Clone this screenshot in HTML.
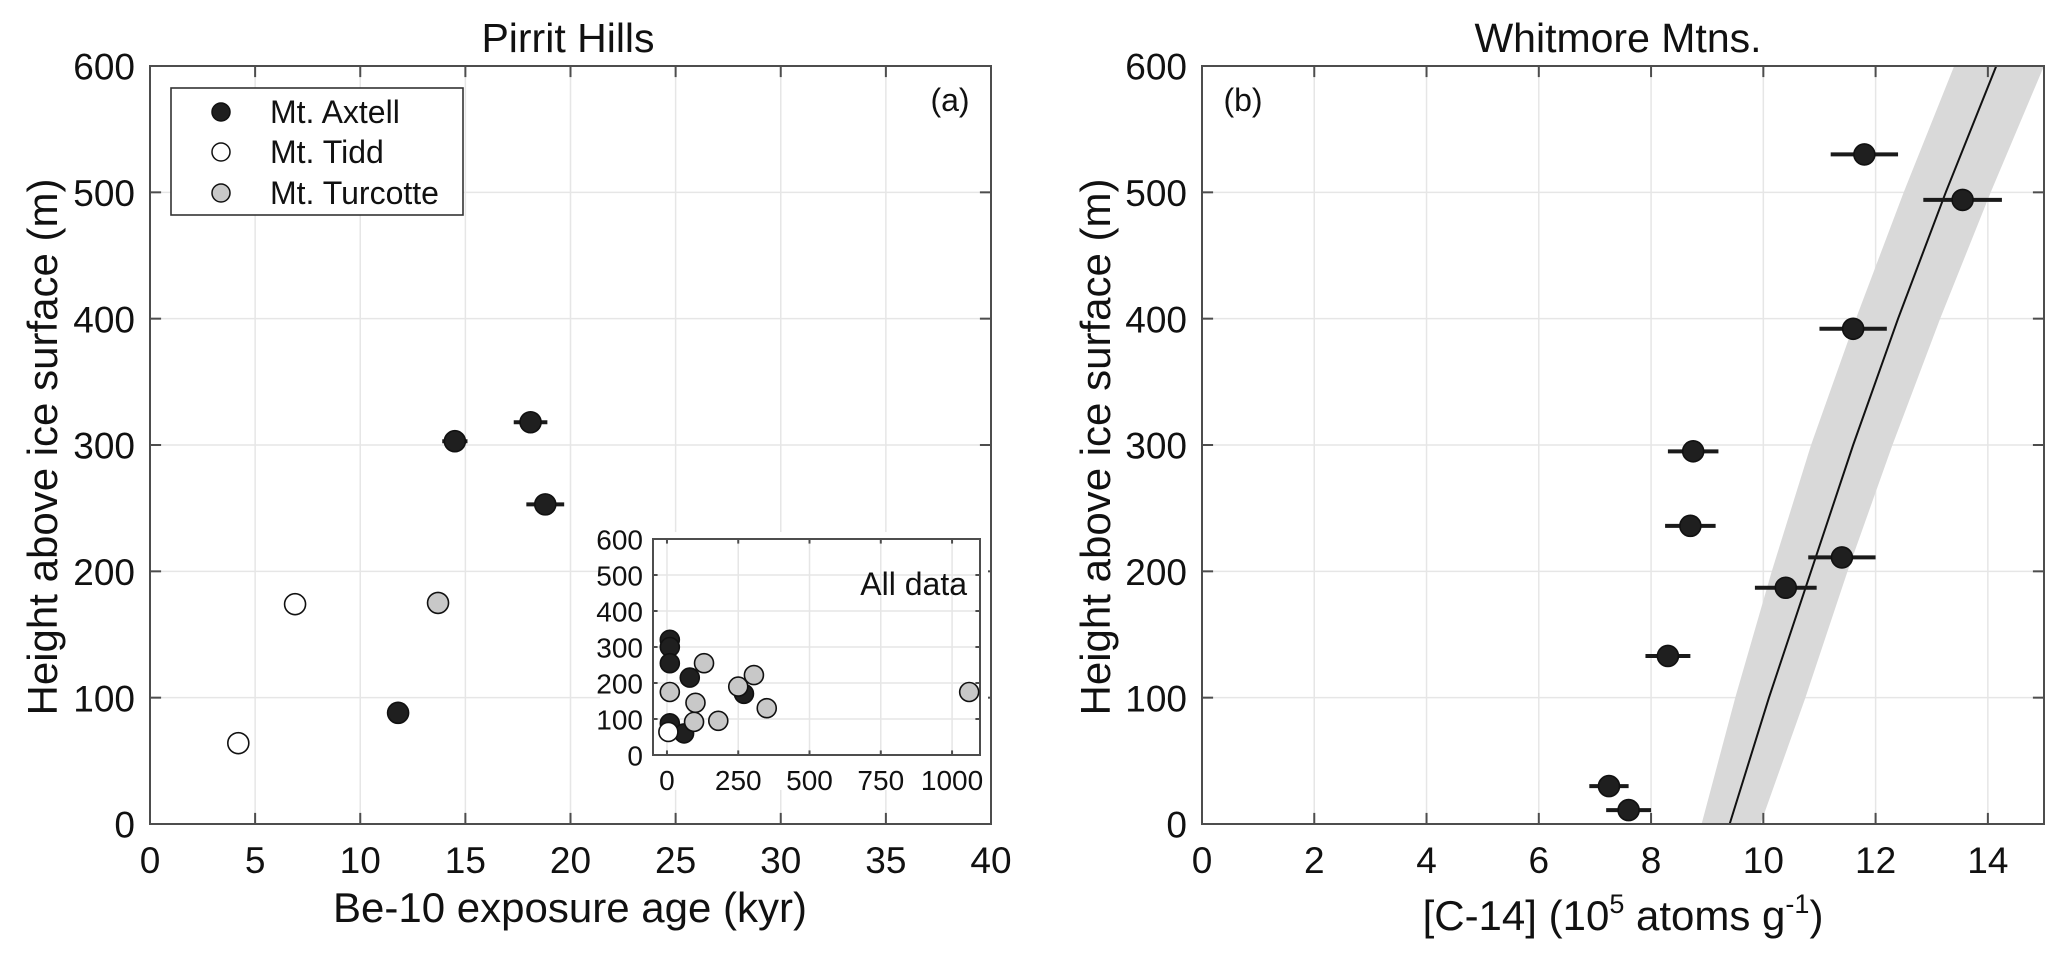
<!DOCTYPE html>
<html><head><meta charset="utf-8"><style>
html,body{margin:0;padding:0;background:#fff;}
svg{display:block;font-family:"Liberation Sans",Arial,sans-serif;}
</style></head><body>
<svg id="fig" width="2068" height="969" viewBox="0 0 2068 969"></svg>
<script>
// ---- Panel (a) data: Pirrit Hills ----
const axtellAge = [11.8, 14.5, 18.1, 18.8];
const axtellH = [88, 303, 318, 253];
const axtellErr = [0.4, 0.6, 0.8, 0.9];
const tiddAge = [4.2, 6.9];
const tiddH = [64, 174];
const turcAge = [13.7];
const turcH = [175];
const xTicksA = [0,5,10,15,20,25,30,35,40];
const yTicks = [0,100,200,300,400,500,600];
// ---- Inset data (all) ----
const insAxAge = [10, 10, 10, 80, 270, 10, 60];
const insAxH = [320, 300, 255, 215, 170, 88, 60];
const insTuAge = [10, 130, 250, 305, 100, 95, 180, 350, 1060];
const insTuH = [175, 255, 190, 222, 145, 92, 95, 130, 175];
const insTiAge = [5];
const insTiH = [64];
const insXTicks = [0,250,500,750,1000];
// ---- Panel (b) data: Whitmore Mtns ----
const c14 = [11.8, 13.55, 11.6, 8.75, 8.7, 11.4, 10.4, 8.3, 7.25, 7.6];
const c14H = [530, 494, 392, 295, 236, 211, 187, 133, 30, 11];
const c14Err = [0.6, 0.7, 0.6, 0.45, 0.45, 0.6, 0.55, 0.4, 0.35, 0.4];
const fitH = [0,100,200,300,400,500,600];
const fitX = [9.4,10.1,10.85,11.6,12.4,13.25,14.15];
const bandLo = [8.9,9.5,10.15,10.85,11.65,12.5,13.4];
const bandHi = [9.95,10.75,11.5,12.3,13.15,14.05,15.0];
const xTicksB = [0,2,4,6,8,10,12,14];

const NS="http://www.w3.org/2000/svg";
const svg=document.getElementById('fig');
function el(tag,attrs,parent,text){const e=document.createElementNS(NS,tag);for(const k in attrs)e.setAttribute(k,attrs[k]);if(text!==undefined)e.textContent=text;(parent||svg).appendChild(e);return e;}

const A={x0:150,x1:991,y0:824,y1:66,xmin:0,xmax:40,ymin:0,ymax:600};
const B={x0:1202,x1:2044,y0:824,y1:66,xmin:0,xmax:15,ymin:0,ymax:600};
const I={x0:653,x1:980,y0:755,y1:539,xmin:-49,xmax:1098,ymin:0,ymax:600};
function sx(ax,v){return ax.x0+(v-ax.xmin)/(ax.xmax-ax.xmin)*(ax.x1-ax.x0);}
function sy(ax,v){return ax.y0-(v-ax.ymin)/(ax.ymax-ax.ymin)*(ax.y0-ax.y1);}

function axesFrame(ax,xt,yt,name){
  const g=el('g',{},svg);
  
  
  el('rect',{x:ax.x0,y:ax.y1,width:ax.x1-ax.x0,height:ax.y0-ax.y1,fill:'#fff'},g);
  xt.forEach(t=>{const x=sx(ax,t);const l=el('line',{x1:x,x2:x,y1:ax.y1,y2:ax.y0,stroke:'#e6e6e6','stroke-width':1.5},g);
    });
  yt.forEach(t=>{const y=sy(ax,t);const l=el('line',{x1:ax.x0,x2:ax.x1,y1:y,y2:y,stroke:'#e6e6e6','stroke-width':1.5},g);
    });
  return g;
}
function axesBorder(ax,xt,yt,fs,name,xgap,ygap){
  const g=el('g',{},svg);
  el('rect',{x:ax.x0,y:ax.y1,width:ax.x1-ax.x0,height:ax.y0-ax.y1,fill:'none',stroke:'#4d4d4d','stroke-width':2},g);
  const tl=(ax.y0-ax.y1)*0.012+2;
  xt.forEach(t=>{const x=sx(ax,t);
    el('line',{x1:x,x2:x,y1:ax.y0,y2:ax.y0-tl,stroke:'#4d4d4d','stroke-width':2},g);
    el('line',{x1:x,x2:x,y1:ax.y1,y2:ax.y1+tl,stroke:'#4d4d4d','stroke-width':2},g);
    const t1=el('text',{x:x,y:ax.y0+xgap,'font-size':fs,'text-anchor':'middle',fill:'#111'},g,String(t));
    });
  yt.forEach(t=>{const y=sy(ax,t);
    el('line',{x1:ax.x0,x2:ax.x0+tl,y1:y,y2:y,stroke:'#4d4d4d','stroke-width':2},g);
    el('line',{x1:ax.x1,x2:ax.x1-tl,y1:y,y2:y,stroke:'#4d4d4d','stroke-width':2},g);
    const t1=el('text',{x:ax.x0-ygap,y:y+fs*0.37,'font-size':fs,'text-anchor':'end',fill:'#111'},g,String(t));
    });
}
function errbar(ax,x,y,e,w,name){
  const l=el('line',{x1:sx(ax,x-e),x2:sx(ax,x+e),y1:sy(ax,y),y2:sy(ax,y),stroke:'#1a1a1a','stroke-width':w});
  
}
function dot(ax,x,y,r,fill,name){
  const c=el('circle',{cx:sx(ax,x),cy:sy(ax,y),r:r,fill:fill,stroke:'#111','stroke-width':1.6});
  
}

// ---------- Panel A ----------
axesFrame(A,xTicksA,yTicks,'panel-a');
axesBorder(A,xTicksA,yTicks,37,'panel-a',49,15);
axtellAge.forEach((v,i)=>errbar(A,v,axtellH[i],axtellErr[i],4,'axtell-error-bar'));
axtellAge.forEach((v,i)=>dot(A,v,axtellH[i],10.5,'#1f1f1f','axtell-point'));
tiddAge.forEach((v,i)=>dot(A,v,tiddH[i],10.5,'#fff','tidd-point'));
turcAge.forEach((v,i)=>dot(A,v,turcH[i],10.5,'#c8c8c8','turcotte-point'));
let t;
t=el('text',{x:568,y:52,'font-size':41,'text-anchor':'middle',fill:'#111'},svg,'Pirrit Hills');

t=el('text',{x:570,y:922,'font-size':42,'text-anchor':'middle',fill:'#111',textLength:474,lengthAdjust:'spacingAndGlyphs'},svg,'Be-10 exposure age (kyr)');

t=el('text',{x:0,y:0,'font-size':42,'text-anchor':'middle',fill:'#111',transform:'translate(57,447) rotate(-90)',textLength:537,lengthAdjust:'spacingAndGlyphs'},svg,'Height above ice surface (m)');

t=el('text',{x:950,y:111,'font-size':32,'text-anchor':'middle',fill:'#111'},svg,'(a)');

// legend
const lg=el('g',{},svg);

el('rect',{x:171,y:88,width:292,height:127,fill:'#fff',stroke:'#333','stroke-width':1.6},lg);
[['Mt. Axtell','#1f1f1f',112],['Mt. Tidd','#fff',152],['Mt. Turcotte','#c8c8c8',193]].forEach(d=>{
  const c=el('circle',{cx:221,cy:d[2],r:9,fill:d[1],stroke:'#111','stroke-width':1.5},lg);
  
  const tx=el('text',{x:270,y:d[2]+11,'font-size':32,fill:'#111'},lg,d[0]);
  
});
// inset
el('rect',{x:600,y:532,width:388,height:258,fill:'#fff'});
axesFrame(I,insXTicks,yTicks,'inset');
axesBorder(I,insXTicks,yTicks,28,'inset',35,10);
insAxAge.forEach((v,i)=>dot(I,v,insAxH[i],9.5,'#1f1f1f','inset-axtell-point'));
insTuAge.forEach((v,i)=>dot(I,v,insTuH[i],9.5,'#c8c8c8','inset-turcotte-point'));
insTiAge.forEach((v,i)=>dot(I,v,insTiH[i],9.5,'#fff','inset-tidd-point'));
t=el('text',{x:967,y:595,'font-size':32,'text-anchor':'end',fill:'#111'},svg,'All data');


// ---------- Panel B ----------
axesFrame(B,xTicksB,yTicks,'panel-b');
let pts=[];
fitH.forEach((h,i)=>pts.push(sx(B,bandLo[i])+','+sy(B,h)));
for(let i=fitH.length-1;i>=0;i--)pts.push(sx(B,bandHi[i])+','+sy(B,fitH[i]));
const band=el('polygon',{points:pts.join(' '),fill:'#d9d9d9'});

const fl=el('polyline',{points:fitH.map((h,i)=>sx(B,fitX[i])+','+sy(B,h)).join(' '),fill:'none',stroke:'#111','stroke-width':2});

axesBorder(B,xTicksB,yTicks,37,'panel-b',49,15);
c14.forEach((v,i)=>errbar(B,v,c14H[i],c14Err[i],4,'c14-error-bar'));
c14.forEach((v,i)=>dot(B,v,c14H[i],10.5,'#1f1f1f','c14-point'));
t=el('text',{x:1618,y:52,'font-size':41,'text-anchor':'middle',fill:'#111'},svg,'Whitmore Mtns.');

t=el('text',{x:1623,y:930,'font-size':42,'text-anchor':'middle',fill:'#111'},svg);

t.innerHTML='[C-14] (10<tspan dy="-17" font-size="27">5</tspan><tspan dy="17"> atoms g</tspan><tspan dy="-17" font-size="27">-1</tspan><tspan dy="17">)</tspan>';
t=el('text',{x:0,y:0,'font-size':42,'text-anchor':'middle',fill:'#111',transform:'translate(1110,447) rotate(-90)',textLength:537,lengthAdjust:'spacingAndGlyphs'},svg,'Height above ice surface (m)');

t=el('text',{x:1243,y:111,'font-size':32,'text-anchor':'middle',fill:'#111'},svg,'(b)');

</script>
</body></html>
